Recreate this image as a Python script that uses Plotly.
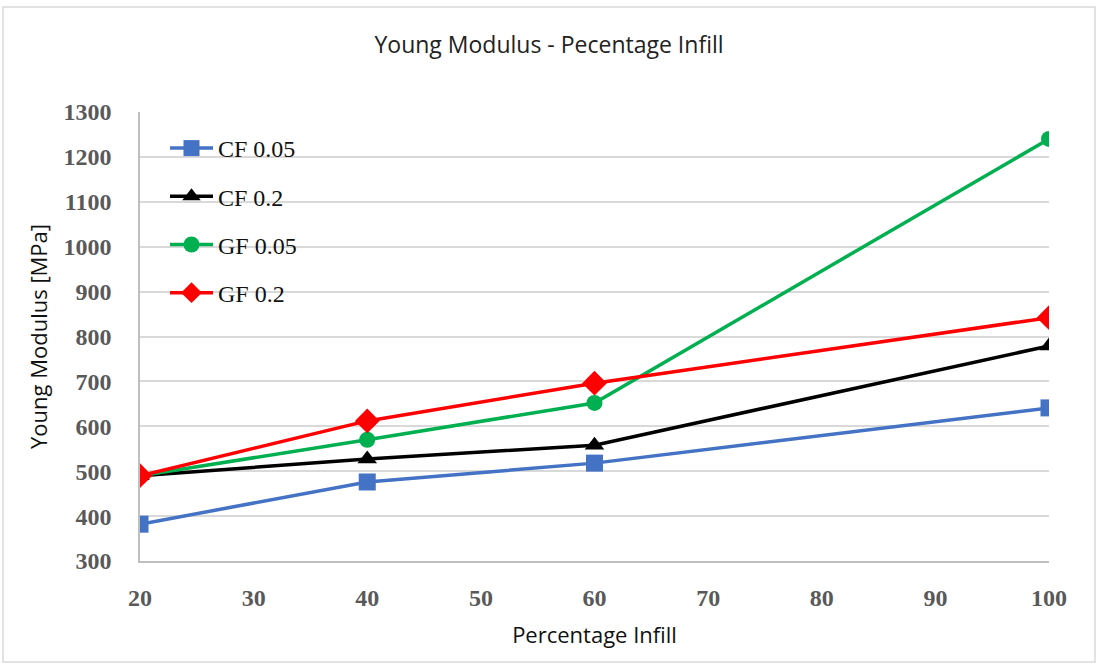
import plotly.graph_objects as go

infill = [20, 40, 60, 100]
series_names = ["CF 0.05", "CF 0.2", "GF 0.05", "GF 0.2"]
cf005 = [382, 476, 518, 641]
cf02 = [490, 527, 558, 779]
gf005 = [490, 570, 652, 1240]
gf02 = [490, 612, 696, 842]

x_ticks = [20, 30, 40, 50, 60, 70, 80, 90, 100]
y_ticks = [300, 400, 500, 600, 700, 800, 900, 1000, 1100, 1200, 1300]

styles = [
    (cf005, "#4472C4", "square", 17),
    (cf02, "#000000", "triangle-up", 17),
    (gf005, "#00B050", "circle", 16),
    (gf02, "#FF0000", "diamond", 19),
]

fig = go.Figure()
for name, (vals, color, sym, size) in zip(series_names, styles):
    fig.add_trace(go.Scatter(
        x=infill, y=vals, name=name, mode="lines+markers",
        line=dict(color=color, width=3.5),
        marker=dict(symbol=sym, size=size, color=color),
        legendgroup=name,
    ))

L, R, T, B = 140, 49, 112, 105
W, H = 1098, 666
pw, ph = W - L - R, H - T - B

def px_x(p):
    return (p - L) / pw

def px_y(p):
    return (H - B - p) / ph

fig.update_layout(
    width=W, height=H,
    margin=dict(l=L, r=R, t=T, b=B),
    paper_bgcolor="white", plot_bgcolor="white",
    title=dict(text="Young Modulus - Pecentage Infill", x=0.5, xanchor="center",
               y=1 - 45 / H, yanchor="middle",
               font=dict(family="Open Sans", size=23, color="#222222")),
    xaxis=dict(range=[20, 100], tickvals=x_ticks, showgrid=False,
               showline=True, linecolor="#BFBFBF", linewidth=1.5,
               ticks="", ticklabelstandoff=14,
               tickfont=dict(family="Liberation Serif", size=24, color="#595959", weight="bold"),
               title=dict(text="Percentage Infill", standoff=18,
                          font=dict(family="Open Sans", size=22, color="#111111"))),
    yaxis=dict(range=[300, 1300], tickvals=y_ticks, showgrid=True,
               gridcolor="#D9D9D9", gridwidth=1.5,
               showline=True, linecolor="#BFBFBF", linewidth=1.5,
               ticks="", ticklabelstandoff=22, zeroline=False,
               tickfont=dict(family="Liberation Serif", size=24, color="#595959", weight="bold"),
               title=dict(text="Young Modulus [MPa]", standoff=10,
                          font=dict(family="Open Sans", size=22, color="#111111"))),
    legend=dict(x=px_x(165), y=px_y(126), xanchor="left", yanchor="top",
                bgcolor="rgba(0,0,0,0)", tracegroupgap=14, itemwidth=43,
                font=dict(family="Liberation Serif", size=24, color="#111111")),
    showlegend=True,
    shapes=[dict(type="rect", xref="paper", yref="paper",
                 x0=px_x(3), x1=px_x(1095), y0=px_y(662), y1=px_y(7),
                 line=dict(color="#D9D9D9", width=1.5), layer="below")],
)

fig.write_html("out.html")
